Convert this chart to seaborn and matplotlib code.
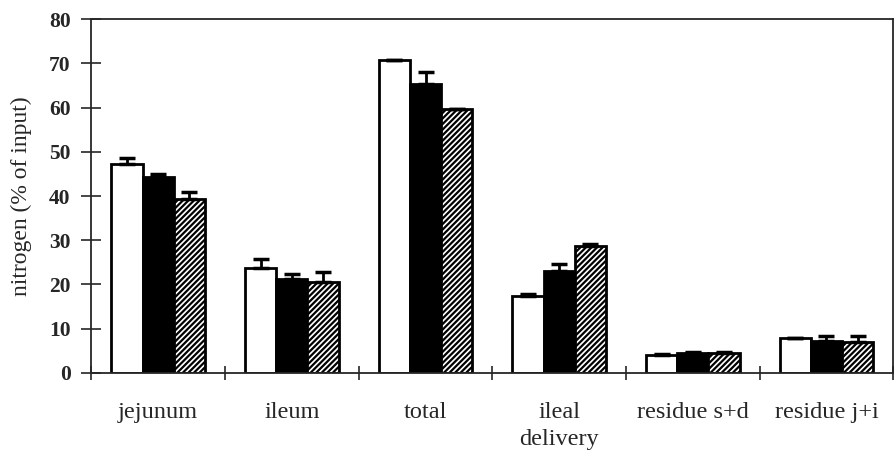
import numpy as np
import pandas as pd
import seaborn as sns
import matplotlib.pyplot as plt

# values
categories = ["jejunum", "ileum", "total", "ileal\ndelivery", "residue s+d", "residue j+i"]
groups = ["A", "B", "C"]
vals_a = [47.2, 23.8, 70.8, 17.4, 4.1, 7.9]
vals_b = [44.2, 21.2, 65.3, 23.0, 4.6, 7.2]
vals_c = [39.3, 20.6, 59.8, 28.8, 4.5, 7.0]
err_a = [1.5, 2.0, 0.0, 0.5, 0.2, 0.0]
err_b = [0.8, 1.2, 2.8, 1.6, 0.2, 1.2]
err_c = [1.6, 2.2, 0.0, 0.4, 0.3, 1.3]

df = pd.DataFrame({
    "part": categories * 3,
    "group": [g for g in groups for _ in categories],
    "value": vals_a + vals_b + vals_c,
})
errs = [err_a, err_b, err_c]

sns.set_style("ticks")
plt.rcParams["font.family"] = ["Liberation Serif", "DejaVu Serif"]
plt.rcParams["hatch.linewidth"] = 1.6

fig, ax = plt.subplots(figsize=(8.96, 4.57), dpi=100)
fig.subplots_adjust(left=0.102, right=0.997, top=0.958, bottom=0.184)

sns.barplot(data=df, x="part", y="value", hue="group", order=categories,
            palette=["white", "black", "white"], edgecolor="black",
            linewidth=2, width=0.7, errorbar=None, legend=False, ax=ax)

# hatch the third series and add upper error bars
bar_sets = list(ax.containers)
for i, cont in enumerate(bar_sets):
    xs = []
    ys = []
    for bar in cont.patches:
        if i == 2:
            bar.set_hatch("//////")
        xs.append(bar.get_x() + bar.get_width() / 2)
        ys.append(bar.get_height())
    e = np.array(errs[i])
    ax.errorbar(xs, ys, yerr=[np.zeros_like(e), e], fmt="none", ecolor="black",
                elinewidth=2, capsize=6, capthick=2.5, zorder=3)

ax.set_xlim(-0.5, 5.5)
ax.set_ylim(0, 80)
ax.set_yticks(range(0, 81, 10))
ax.set_xticks(np.arange(-0.5, 5.6, 1), minor=True)
ax.tick_params(axis="x", which="major", length=0, pad=21, labelsize=17.5)
ax.tick_params(axis="x", which="minor", length=10, width=1.2, direction="inout")
ax.tick_params(axis="y", length=14, width=1.2, direction="inout", pad=8, labelsize=15.5)
for lab in ax.get_xticklabels():
    lab.set_linespacing(1.35)
for lab in ax.get_yticklabels():
    lab.set_fontweight("bold")
ax.set_xlabel("")
ax.set_ylabel("nitrogen (% of input)", fontsize=17, labelpad=12)
for sp in ax.spines.values():
    sp.set_visible(True)
    sp.set_linewidth(1.3)

fig.savefig("out.png", dpi=100)
